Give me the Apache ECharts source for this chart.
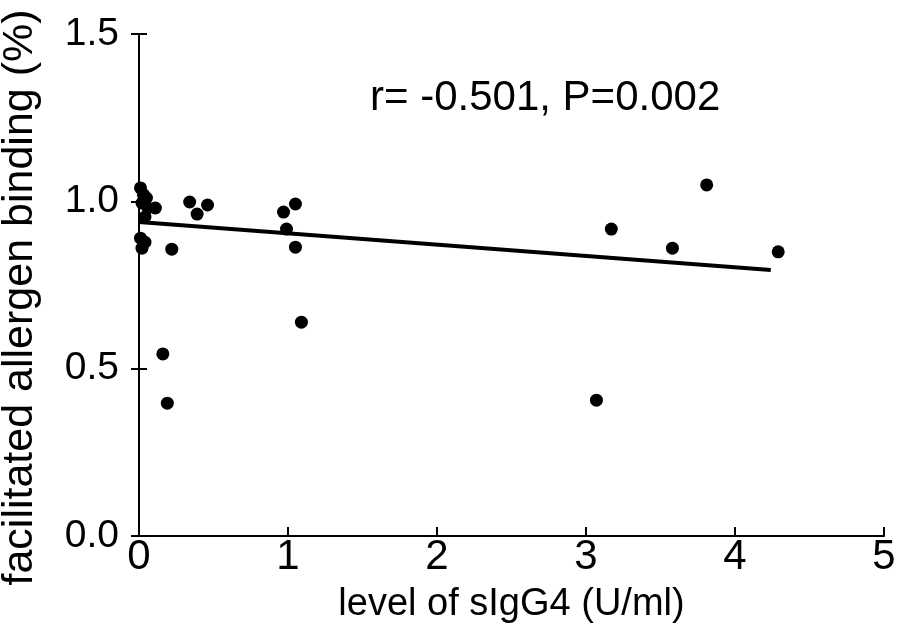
<!DOCTYPE html>
<html>
<head>
<meta charset="utf-8">
<script src="https://cdn.jsdelivr.net/npm/echarts@6/dist/echarts.min.js"></script>
<style>html,body{margin:0;padding:0;background:#fff}#c{width:904px;height:642px}</style>
</head>
<body>
<div id="c"></div>
<script>
const xValues = [0.01, 0.03, 0.05, 0.02, 0.06, 0.11, 0.04, 0.01, 0.04, 0.02, 0.22, 0.34, 0.46, 0.39, 0.16, 0.19, 1.05, 0.97, 0.99, 1.05, 1.09, 3.17, 3.81, 3.58, 4.29, 3.07];
const yValues = [1.04, 1.02, 1.01, 0.995, 0.98, 0.98, 0.953, 0.89, 0.878, 0.86, 0.857, 0.998, 0.989, 0.962, 0.544, 0.397, 0.992, 0.968, 0.917, 0.863, 0.639, 0.917, 1.049, 0.86, 0.849, 0.406];
const fitX = [0.0, 4.24];
const fitY = [0.938, 0.795];
const xTicks = [0, 1, 2, 3, 4, 5];
const yTicks = [0.0, 0.5, 1.0, 1.5];
const annotation = 'r= -0.501, P=0.002';
const xTitle = 'level of sIgG4 (U/ml)';
const yTitle = 'facilitated allergen binding (%)';

const pts = xValues.map((x, i) => [x, yValues[i]]);
const fit = fitX.map((x, i) => [x, fitY[i]]);
const font = 'Liberation Sans, Arial, sans-serif';

const chart = echarts.init(document.getElementById('c'));
chart.setOption({
  animation: false,
  backgroundColor: '#fff',
  grid: { left: 139, right: 20, top: 34, bottom: 106, containLabel: false, outerBoundsMode: 'none' },
  xAxis: {
    type: 'value', min: 0, max: 5, interval: 1,
    name: xTitle, nameLocation: 'middle', nameGap: 50,
    nameTextStyle: { fontFamily: font, fontSize: 38, color: '#000' },
    axisLine: { show: true, lineStyle: { color: '#000', width: 2 } },
    axisTick: { show: true, inside: true, length: 9, lineStyle: { color: '#000', width: 2 } },
    axisLabel: { fontFamily: font, fontSize: 42, color: '#000', margin: 0,
      formatter: v => xTicks.includes(v) ? String(v) : '' },
    splitLine: { show: false }
  },
  yAxis: [{
    type: 'value', min: 0, max: 1.5, interval: 0.5,
    name: yTitle, nameLocation: 'middle', nameGap: 97, nameRotate: 90,
    nameTextStyle: { fontFamily: font, fontSize: 43, color: '#000', padding: [0, 25, 0, 0] },
    axisLine: { show: true, lineStyle: { color: '#000', width: 2 } },
    axisTick: { show: true, inside: false, length: 8, lineStyle: { color: '#000', width: 2 } },
    axisLabel: { fontFamily: font, fontSize: 39, color: '#000', margin: 20,
      formatter: v => yTicks.some(t => Math.abs(t - v) < 1e-9) ? v.toFixed(1) : '' },
    splitLine: { show: false }
  }, {
    type: 'value', min: 0, max: 1.5, interval: 0.5, position: 'left',
    axisLine: { show: false },
    axisTick: { show: true, inside: true, length: 8, lineStyle: { color: '#000', width: 2 } },
    axisLabel: { show: false },
    splitLine: { show: false }
  }],
  graphic: [{
    type: 'text', left: 370, top: 77,
    style: { text: annotation, fontFamily: font, fontSize: 42, fill: '#000' }
  }],
  series: [{
    type: 'scatter', data: pts, symbol: 'circle', symbolSize: 13,
    itemStyle: { color: '#000', opacity: 1 }, z: 3
  }, {
    type: 'line', data: fit, showSymbol: false, symbol: 'none',
    lineStyle: { color: '#000', width: 4 }, z: 2
  }]
});
</script>
</body>
</html>
